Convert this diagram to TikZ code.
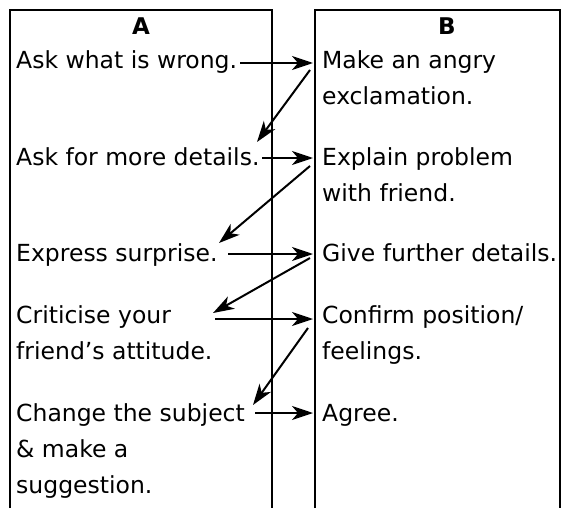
\documentclass[tikz,border=0pt]{standalone}
\usepackage{fontspec}
\setmainfont{DejaVu Sans}
\usetikzlibrary{arrows.meta}

\begin{document}
\begin{tikzpicture}[x=1pt,y=-1pt,
    txt/.style={anchor=base west,inner sep=0pt,align=left,font=\fontsize{23.5}{36}\selectfont},
    head/.style={anchor=base,inner sep=0pt,font=\fontsize{23}{36}\selectfont\bfseries},
    link/.style={line width=2pt,-{Stealth[length=21pt,width=14pt,inset=6pt]}}]
            \useasboundingbox (0,0) rectangle (564,508);
            \draw[line width=1.3pt] (10,508) |- (272,10) -- (272,508);
            \draw[line width=1.3pt] (315,508) |- (560,10) -- (560,508);

            \node[head] (headA) at (141,35) {A};
            \node[head] (headB) at (447,35) {B};

            % multi-line nodes sit on the baseline of their last line
            \node[txt] (askA) at (16,69) {Ask what is wrong.};
            \node[txt] (angryB) at (322,105) {Make an angry\\exclamation.};
            \node[txt] (moreA) at (16,165) {Ask for more details.};
            \node[txt] (explainB) at (322,201) {Explain problem\\with friend.};
            \node[txt] (surpriseA) at (16,261) {Express surprise.};
            \node[txt] (furtherB) at (322,261) {Give further details.};
            \node[txt] (criticA) at (16,359) {Criticise your\\friend’s attitude.};
            \node[txt] (confirmB) at (322,359) {Confirm position/\\feelings.};
            \node[txt] (changeA) at (16,493) {Change the subject\\\& make a\\suggestion.};
            \node[txt] (agreeB) at (322,421) {Agree.};

            \coordinate (askOut) at (240,63);
            \coordinate (angryIn) at (313,63);
            \coordinate (angryOut) at (310,70);
            \coordinate (moreIn) at (257,142);
            \coordinate (moreOut) at (262,158);
            \coordinate (explainIn) at (313,158);
            \coordinate (explainOut) at (310,166);
            \coordinate (surpriseIn) at (219,243);
            \coordinate (surpriseOut) at (228,254);
            \coordinate (furtherIn) at (313,254);
            \coordinate (furtherOut) at (310,258);
            \coordinate (criticIn) at (213,313);
            \coordinate (criticOut) at (215,319);
            \coordinate (confirmIn) at (313,319);
            \coordinate (confirmOut) at (308,328);
            \coordinate (changeIn) at (253,405);
            \coordinate (changeOut) at (255,413);
            \coordinate (agreeIn) at (313,413);

            \draw[link] (askOut) -- (angryIn);
            \draw[link] (angryOut) -- (moreIn);
            \draw[link] (moreOut) -- (explainIn);
            \draw[link] (explainOut) -- (surpriseIn);
            \draw[link] (surpriseOut) -- (furtherIn);
            \draw[link] (furtherOut) -- (criticIn);
            \draw[link] (criticOut) -- (confirmIn);
            \draw[link] (confirmOut) -- (changeIn);
            \draw[link] (changeOut) -- (agreeIn);
\end{tikzpicture}
\end{document}
